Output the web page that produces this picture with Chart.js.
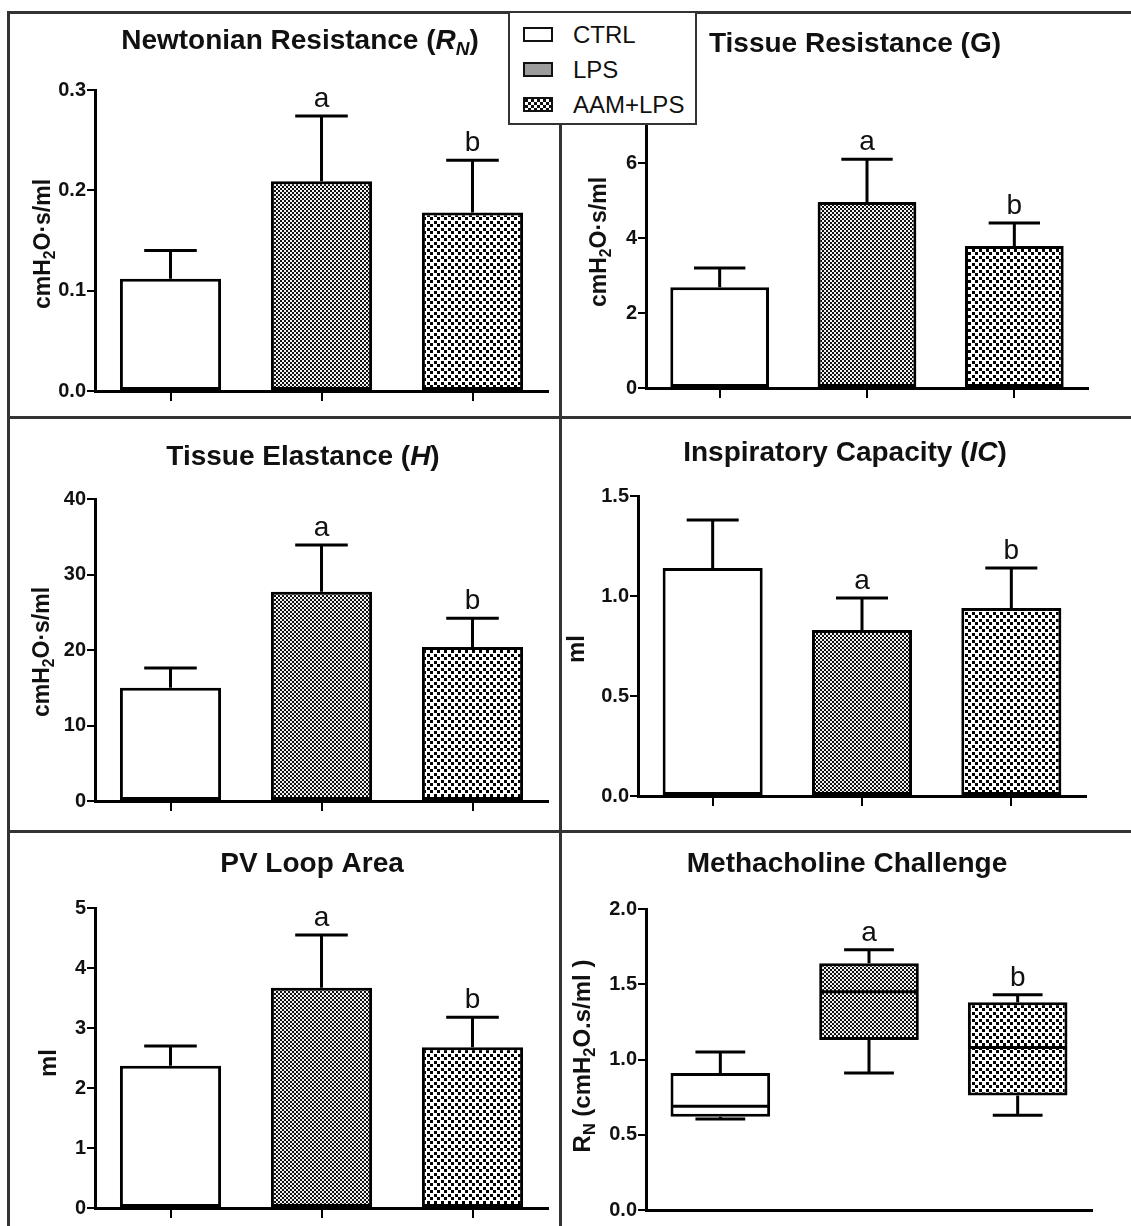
<!DOCTYPE html>
<html>
<head>
<meta charset="utf-8">
<script src="https://cdn.jsdelivr.net/npm/chart.js@4.4.1/dist/chart.umd.min.js"></script>
<style>
  html, body { margin: 0; padding: 0; background: #fff; }
  body { width: 1131px; height: 1226px; position: relative; overflow: hidden;
         font-family: "Liberation Sans", Arial, Helvetica, sans-serif; }
  canvas.panel { position: absolute; }
  .rule { position: absolute; background: #333; z-index: 3; }
  #legend { position: absolute; left: 508px; top: 11px; width: 189px; height: 114px;
            box-sizing: border-box; border: 2px solid #333; background: #fff; z-index: 5; }
  .lg { position: absolute; left: 13px; height: 15px; display: flex; align-items: center; }
  .sw { width: 30px; height: 15px; box-sizing: border-box; border: 2px solid #111; }
  .lt { margin-left: 20px; font-size: 24px; line-height: 1; color: #111; white-space: nowrap; }
</style>
</head>
<body>
<canvas id="p1" class="panel"></canvas>
<canvas id="p2" class="panel"></canvas>
<canvas id="p3" class="panel"></canvas>
<canvas id="p4" class="panel"></canvas>
<canvas id="p5" class="panel"></canvas>
<canvas id="p6" class="panel"></canvas>

<div class="rule" style="left:7px;top:11px;width:1124px;height:3px"></div>
<div class="rule" style="left:7px;top:11px;width:3px;height:1215px"></div>
<div class="rule" style="left:559px;top:11px;width:3px;height:1215px"></div>
<div class="rule" style="left:7px;top:416px;width:1124px;height:3px"></div>
<div class="rule" style="left:7px;top:830px;width:1124px;height:3px"></div>

<div id="legend">
  <div class="lg" style="top:14px"><span class="sw" id="sw0"></span><span class="lt">CTRL</span></div>
  <div class="lg" style="top:49px"><span class="sw" id="sw1"></span><span class="lt">LPS</span></div>
  <div class="lg" style="top:84px"><span class="sw" id="sw2"></span><span class="lt">AAM+LPS</span></div>
</div>

<script>
(function() {
    'use strict';

    const FONT = '"Liberation Sans", Arial, Helvetica, sans-serif';

    const groups = ['CTRL', 'LPS', 'AAM+LPS'];
    const sigLetters = ['', 'a', 'b'];

    // Newtonian resistance RN (cmH2O·s/ml), mean and SEM
    const rnMean = [0.112, 0.209, 0.178];
    const rnSem = [0.028, 0.065, 0.052];
    const rnTicks = [0, 0.1, 0.2, 0.3];

    // Tissue resistance G
    const gMean = [2.69, 4.96, 3.79];
    const gSem = [0.51, 1.14, 0.61];
    const gTicks = [0, 2, 4, 6, 8];

    // Tissue elastance H
    const hMean = [15.0, 27.7, 20.4];
    const hSem = [2.6, 6.2, 3.8];
    const hTicks = [0, 10, 20, 30, 40];

    // Inspiratory capacity IC (ml)
    const icMean = [1.14, 0.83, 0.94];
    const icSem = [0.24, 0.16, 0.20];
    const icTicks = [0, 0.5, 1.0, 1.5];

    // PV loop area (ml)
    const pvMean = [2.37, 3.67, 2.68];
    const pvSem = [0.33, 0.88, 0.50];
    const pvTicks = [0, 1, 2, 3, 4, 5];

    // Methacholine challenge, RN box plot
    const mchMin = [0.605, 0.91, 0.63];
    const mchQ1 = [0.62, 1.13, 0.76];
    const mchMedian = [0.69, 1.45, 1.08];
    const mchQ3 = [0.91, 1.64, 1.38];
    const mchMax = [1.05, 1.73, 1.43];
    const mchTicks = [0, 0.5, 1.0, 1.5, 2.0];

    // fill tiles
    function tile(size, cells, bg, fg) {
        const c = document.createElement('canvas');
        c.width = c.height = size;
        const g = c.getContext('2d');
        g.fillStyle = bg;
        g.fillRect(0, 0, size, size);
        g.fillStyle = fg;
        cells.forEach(([x, y, w]) => g.fillRect(x, y, w, w));
        return c;
    }
    const fineTile = tile(4, [[0, 0, 2], [2, 2, 2]], '#f2f2f2', '#111');
    const coarseTile = tile(7, [[0, 0, 3], [4, 4, 3]], '#fff', '#000');
    const legendTile = tile(6, [[0, 0, 3], [3, 3, 3]], '#fff', '#111');

    document.getElementById('sw0').style.background = '#fff';
    document.getElementById('sw1').style.background = '#9c9c9c';
    document.getElementById('sw2').style.backgroundImage = 'url(' + legendTile.toDataURL() + ')';

    // rich text: segments with italic / subscript parts
    function drawRich(ctx, segs, x, y, size, weight, rotate) {
        ctx.save();
        ctx.translate(x, y);
        if (rotate) ctx.rotate(-Math.PI / 2);
        const parts = segs.map(s => {
            const sz = s.sub ? size * 0.68 : size;
            const font = (s.i ? 'italic ' : '') + weight + ' ' + sz + 'px ' + FONT;
            ctx.font = font;
            return { text: s.t, font: font, w: ctx.measureText(s.t).width, dy: s.sub ? size * 0.22 : 0 };
        });
        const total = parts.reduce((a, p) => a + p.w, 0);
        let cx = -total / 2;
        ctx.fillStyle = '#111';
        ctx.textAlign = 'left';
        ctx.textBaseline = 'alphabetic';
        parts.forEach(p => {
            ctx.font = p.font;
            ctx.fillText(p.text, cx, p.dy);
            cx += p.w;
        });
        ctx.restore();
    }

    const cmH2O = [{ t: 'cmH' }, { t: '2', sub: 1 }, { t: 'O\u00b7s/ml' }];
    const ml = [{ t: 'ml' }];

    const panels = [
        { id: 'p1', kind: 'bar', mean: rnMean, sem: rnSem, ticks: rnTicks, dec: 1,
          box: [10, 14, 549, 402], area: [95, 90, 548, 391],
          title: [{ t: 'Newtonian Resistance (' }, { t: 'R', i: 1 }, { t: 'N', i: 1, sub: 1 }, { t: ')' }],
          titleAt: [300, 49], yTitle: cmH2O, yTitleAt: [50, 244], ySize: 23 },
        { id: 'p2', kind: 'bar', mean: gMean, sem: gSem, ticks: gTicks, dec: 0,
          box: [562, 14, 569, 402], area: [646, 88, 1088, 388],
          title: [{ t: 'Tissue Resistance (G)' }],
          titleAt: [855, 52], yTitle: cmH2O, yTitleAt: [606, 242], ySize: 23 },
        { id: 'p3', kind: 'bar', mean: hMean, sem: hSem, ticks: hTicks, dec: 0,
          box: [10, 419, 549, 411], area: [95, 499, 548, 801],
          title: [{ t: 'Tissue Elastance (' }, { t: 'H', i: 1 }, { t: ')' }],
          titleAt: [303, 465], yTitle: cmH2O, yTitleAt: [49, 652], ySize: 23 },
        { id: 'p4', kind: 'bar', mean: icMean, sem: icSem, ticks: icTicks, dec: 1,
          box: [562, 419, 569, 411], area: [638, 496, 1086, 796],
          title: [{ t: 'Inspiratory Capacity (' }, { t: 'IC', i: 1 }, { t: ')' }],
          titleAt: [845, 461], yTitle: ml, yTitleAt: [584, 649], ySize: 24 },
        { id: 'p5', kind: 'bar', mean: pvMean, sem: pvSem, ticks: pvTicks, dec: 0,
          box: [10, 833, 549, 393], area: [95, 908, 548, 1208],
          title: [{ t: 'PV Loop Area' }],
          titleAt: [312, 872], yTitle: ml, yTitleAt: [56, 1063], ySize: 24 },
        { id: 'p6', kind: 'box', ticks: mchTicks, dec: 1,
          box: [562, 833, 569, 393], area: [646, 909, 1092, 1210],
          title: [{ t: 'Methacholine Challenge' }],
          titleAt: [847, 872],
          yTitle: [{ t: 'R' }, { t: 'N', sub: 1 }, { t: ' (cmH' }, { t: '2', sub: 1 }, { t: 'O.s/ml )' }],
          yTitleAt: [590, 1056], ySize: 24 }
    ];

    function makePanel(p) {
        const canvas = document.getElementById(p.id);
        const [bx, by, bw, bh] = p.box;
        canvas.width = bw;
        canvas.height = bh;
        canvas.style.left = bx + 'px';
        canvas.style.top = by + 'px';
        canvas.style.width = bw + 'px';
        canvas.style.height = bh + 'px';

        const ctx = canvas.getContext('2d');
        const fills = ['#fff', ctx.createPattern(fineTile, 'repeat'), ctx.createPattern(coarseTile, 'repeat')];

        const left = p.area[0] - bx;
        const top = p.area[1] - by;
        const right = bx + bw - p.area[2];
        const xHeight = by + bh - p.area[3];

        const data = p.kind === 'box'
            ? mchQ1.map((v, i) => [v, mchQ3[i]])
            : p.mean;

        const marks = {
            id: 'marks',
            afterDatasetsDraw(chart) {
                const meta = chart.getDatasetMeta(0);
                const y = chart.scales.y;
                const c = chart.ctx;
                c.save();
                c.strokeStyle = '#000';
                c.lineWidth = 3;
                c.lineCap = 'butt';
                meta.data.forEach((bar, i) => {
                    const half = bar.width * 0.25;
                    let capTop;
                    c.beginPath();
                    if (p.kind === 'box') {
                        const yMed = y.getPixelForValue(mchMedian[i]);
                        c.moveTo(bar.x - bar.width / 2 + 2, yMed);
                        c.lineTo(bar.x + bar.width / 2 - 2, yMed);
                        const yQ3 = y.getPixelForValue(mchQ3[i]);
                        const yMax = y.getPixelForValue(mchMax[i]);
                        const yQ1 = y.getPixelForValue(mchQ1[i]);
                        const yMin = y.getPixelForValue(mchMin[i]);
                        c.moveTo(bar.x, yQ3); c.lineTo(bar.x, yMax);
                        c.moveTo(bar.x - half, yMax); c.lineTo(bar.x + half, yMax);
                        c.moveTo(bar.x, yQ1); c.lineTo(bar.x, yMin);
                        c.moveTo(bar.x - half, yMin); c.lineTo(bar.x + half, yMin);
                        capTop = yMax;
                    } else {
                        const yBar = y.getPixelForValue(p.mean[i]);
                        const yErr = y.getPixelForValue(p.mean[i] + p.sem[i]);
                        c.moveTo(bar.x, yBar); c.lineTo(bar.x, yErr);
                        c.moveTo(bar.x - half - 1, yErr); c.lineTo(bar.x + half + 1, yErr);
                        capTop = yErr;
                    }
                    c.stroke();
                    if (sigLetters[i]) {
                        c.fillStyle = '#111';
                        c.font = '28px ' + FONT;
                        c.textAlign = 'center';
                        c.textBaseline = 'alphabetic';
                        c.fillText(sigLetters[i], bar.x, capTop - 9);
                    }
                });
                c.restore();
            },
            afterDraw(chart) {
                const c = chart.ctx;
                drawRich(c, p.title, p.titleAt[0] - bx, p.titleAt[1] - by, 28, 'bold', false);
                drawRich(c, p.yTitle, p.yTitleAt[0] - bx, p.yTitleAt[1] - by, p.ySize, 'bold', true);
            }
        };

        return new Chart(canvas, {
            type: 'bar',
            data: {
                labels: groups,
                datasets: [{
                    data: data,
                    backgroundColor: fills,
                    borderColor: '#000',
                    borderWidth: 3,
                    borderSkipped: false,
                    barPercentage: 0.67,
                    categoryPercentage: 1.0
                }]
            },
            options: {
                responsive: false,
                animation: false,
                devicePixelRatio: 1,
                events: [],
                layout: { padding: { left: 0, top: top, right: right, bottom: 0 } },
                plugins: {
                    legend: { display: false },
                    title: { display: false },
                    tooltip: { enabled: false }
                },
                scales: {
                    x: {
                        offset: true,
                        afterFit: function(scale) { scale.height = xHeight; },
                        ticks: { display: false },
                        grid: {
                            offset: false,
                            drawOnChartArea: false,
                            drawTicks: p.kind !== 'box',
                            tickLength: p.kind === 'box' ? 0 : 10,
                            color: '#000',
                            lineWidth: 2
                        },
                        border: { display: true, color: '#000', width: 3 }
                    },
                    y: {
                        min: p.ticks[0],
                        max: p.ticks[p.ticks.length - 1],
                        afterFit: function(scale) { scale.width = left; },
                        afterBuildTicks: function(scale) {
                            scale.ticks = p.ticks.map(v => ({ value: v }));
                        },
                        ticks: {
                            color: '#111',
                            padding: 1,
                            font: { family: FONT, size: 20, weight: 'bold' },
                            callback: v => Number(v).toFixed(p.dec)
                        },
                        grid: {
                            drawOnChartArea: false,
                            drawTicks: true,
                            tickLength: 8,
                            color: '#000',
                            lineWidth: 2
                        },
                        border: { display: true, color: '#000', width: 3 }
                    }
                }
            },
            plugins: [marks]
        });
    }

    panels.forEach(makePanel);
})();
</script>
</body>
</html>
